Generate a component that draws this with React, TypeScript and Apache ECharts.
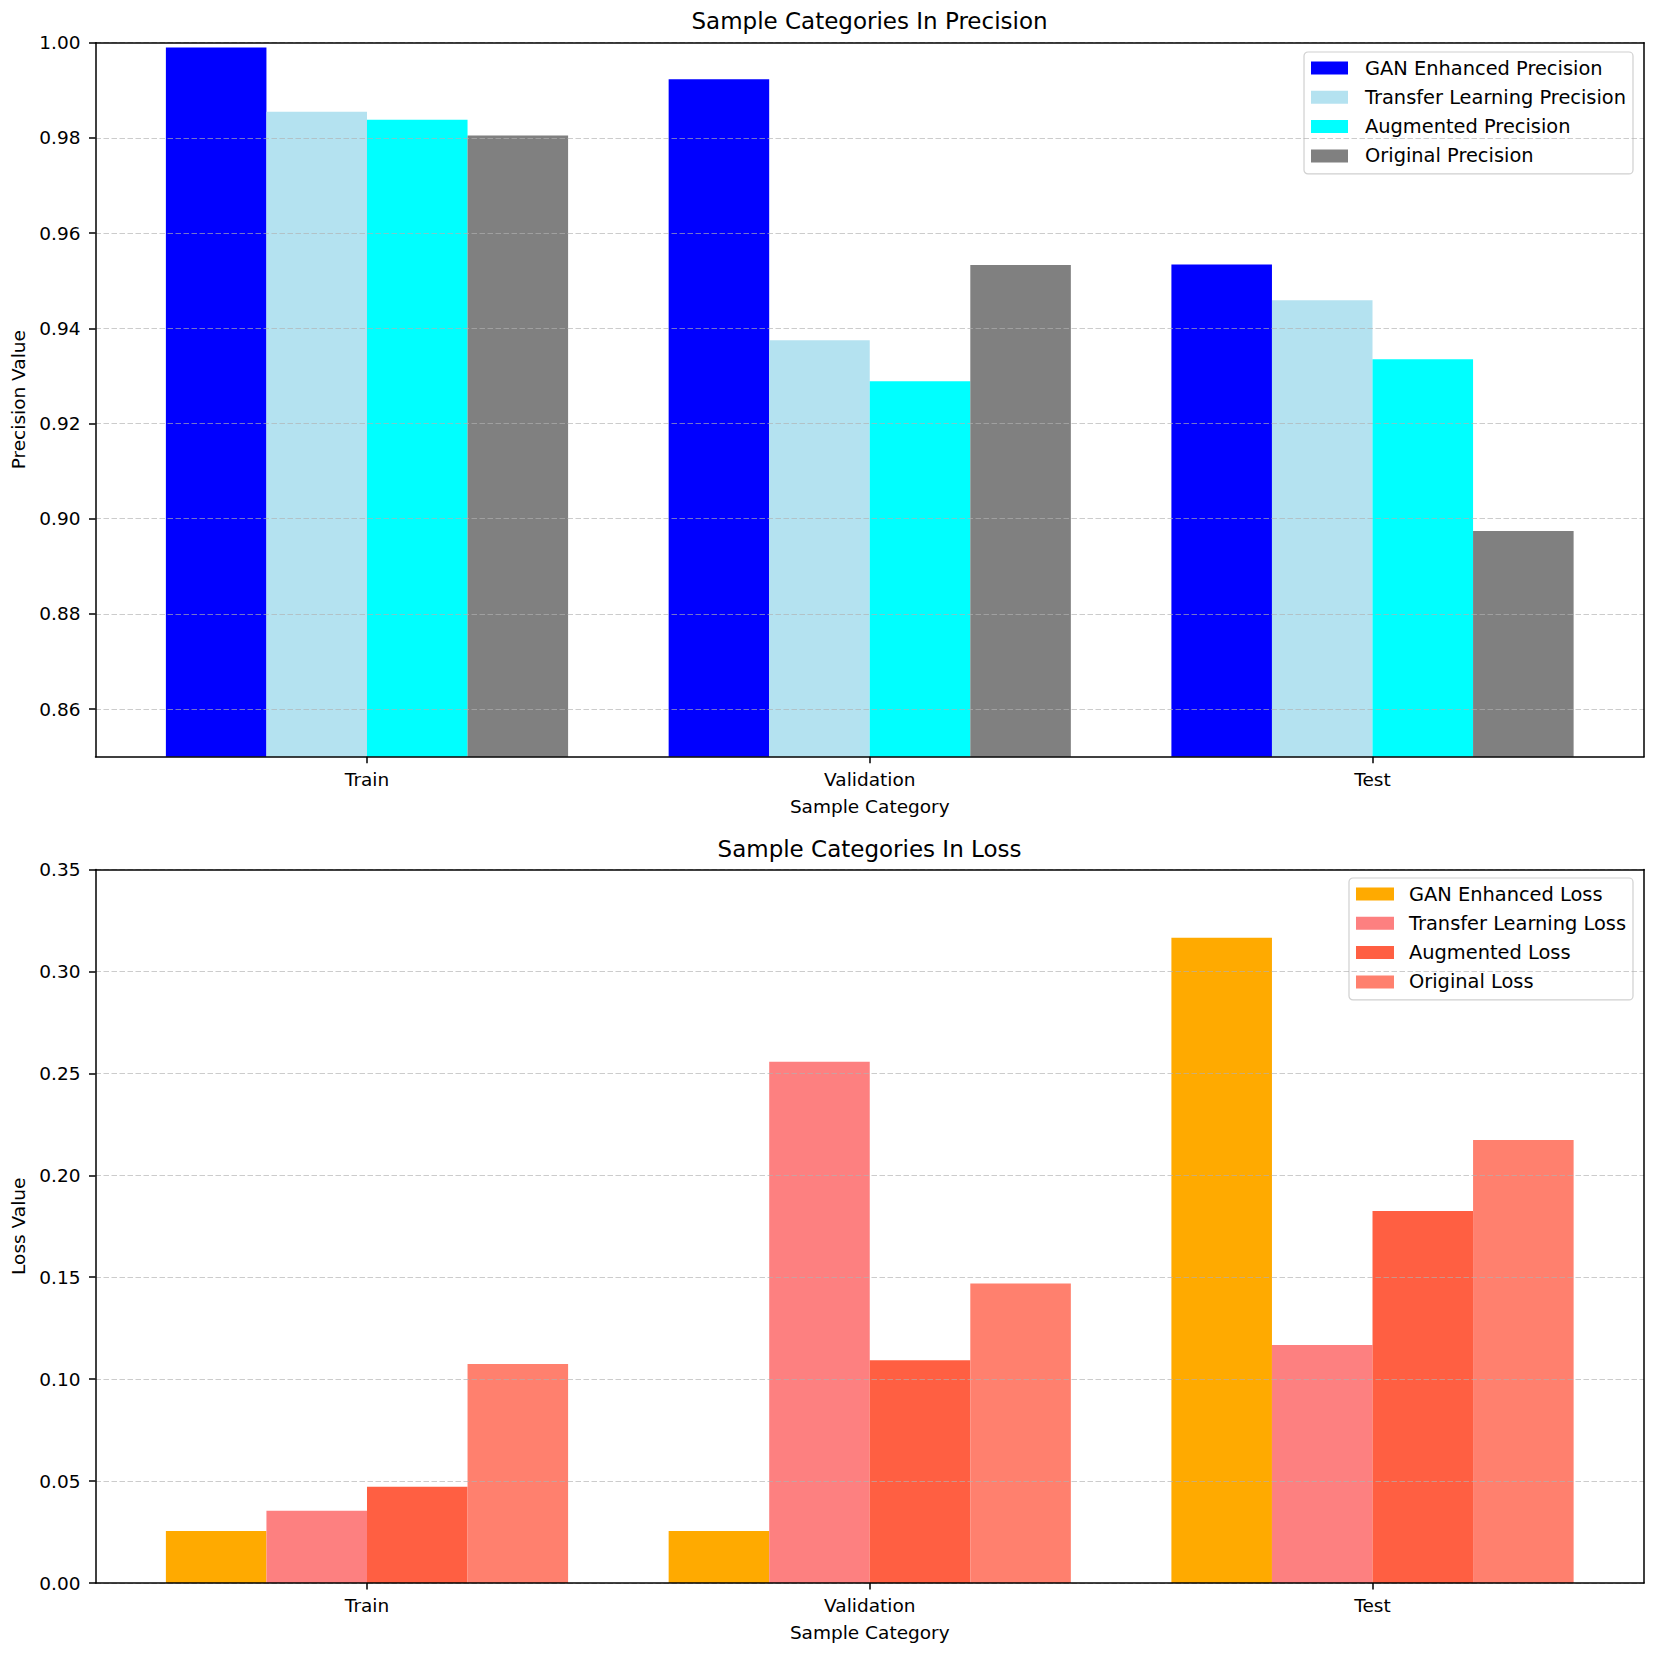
import React, { useEffect, useRef } from 'react';
import * as echarts from 'echarts';

const categories = ['Train', 'Validation', 'Test'];
const categoryPositions = [0, 1, 2];

const precisionNames = ['GAN Enhanced Precision', 'Transfer Learning Precision', 'Augmented Precision', 'Original Precision'];
const ganPrecision = [0.999, 0.9923, 0.9534];
const transferPrecision = [0.9855, 0.9375, 0.9459];
const augmentedPrecision = [0.9838, 0.9289, 0.9335];
const originalPrecision = [0.9805, 0.9533, 0.8974];
const precisionColors = ['#0000ff', '#b4e2f0', '#00ffff', '#808080'];
const precisionTicks = [0.86, 0.88, 0.9, 0.92, 0.94, 0.96, 0.98, 1.0];

const lossNames = ['GAN Enhanced Loss', 'Transfer Learning Loss', 'Augmented Loss', 'Original Loss'];
const ganLoss = [0.0255, 0.0255, 0.3165];
const transferLoss = [0.0354, 0.2557, 0.1168];
const augmentedLoss = [0.0472, 0.1093, 0.1825];
const originalLoss = [0.1074, 0.1469, 0.2173];
const lossColors = ['#ffaa00', '#fd8080', '#ff5f42', '#ff806e'];
const lossTicks = [0, 0.05, 0.1, 0.15, 0.2, 0.25, 0.3, 0.35];

const FONT = 'DejaVu Sans';

function toPairs(vals: number[]) {
  return vals.map((v, i) => [categoryPositions[i], v]);
}

export default function App() {
  const ref = useRef<HTMLDivElement>(null);
  useEffect(() => {
    document.body.style.margin = '0';
    if (!ref.current) return;
    const chart = echarts.init(ref.current, null, { renderer: 'svg' });

    const spine = { color: '#000', width: 1.5 };

    const xAxisBase = (gridIndex: number) => ({
      type: 'value',
      gridIndex,
      position: 'bottom',
      min: -0.54,
      max: 2.54,
      z: 5,
      name: 'Sample Category',
      nameLocation: 'middle',
      nameGap: 40,
      nameTextStyle: { fontFamily: FONT, fontSize: 18.5, color: '#000' },
      axisLine: { show: true, onZero: false, lineStyle: spine },
      axisTick: { show: true, length: 6.5, customValues: categoryPositions, lineStyle: spine },
      axisLabel: {
        show: true,
        margin: 13,
        customValues: categoryPositions,
        formatter: (v: number) => categories[Math.round(v)] ?? '',
        fontFamily: FONT,
        fontSize: 18.5,
        color: '#000',
      },
      splitLine: { show: false },
    });

    const xAxisTop = (gridIndex: number) => ({
      type: 'value',
      gridIndex,
      position: 'top',
      min: -0.54,
      max: 2.54,
      z: 5,
      axisLine: { show: true, onZero: false, lineStyle: spine },
      axisTick: { show: false },
      axisLabel: { show: false },
      splitLine: { show: false },
    });

    const yAxisBase = (gridIndex: number, name: string, min: number, max: number, ticks: number[]) => ({
      type: 'value',
      gridIndex,
      position: 'left',
      min,
      max,
      z: 4,
      name,
      nameLocation: 'middle',
      nameGap: 66,
      nameTextStyle: { fontFamily: FONT, fontSize: 18.5, color: '#000' },
      axisLine: { show: true, onZero: false, lineStyle: spine },
      axisTick: { show: true, length: 6.5, customValues: ticks, lineStyle: spine },
      axisLabel: {
        margin: 15,
        customValues: ticks,
        formatter: (v: number) => v.toFixed(2),
        fontFamily: FONT,
        fontSize: 18.5,
        color: '#000',
      },
      splitLine: {
        show: true,
        lineStyle: { color: 'rgba(176,176,176,0.65)', width: 1.2, type: [5.5, 2.5] },
      },
    });

    const yAxisRight = (gridIndex: number, min: number, max: number) => ({
      type: 'value',
      gridIndex,
      position: 'right',
      min,
      max,
      z: 5,
      axisLine: { show: true, onZero: false, lineStyle: spine },
      axisTick: { show: false },
      axisLabel: { show: false },
      splitLine: { show: false },
    });

    const legendBase = {
      orient: 'vertical',
      right: 21,
      icon: 'rect',
      itemWidth: 37,
      itemHeight: 13,
      itemGap: 7.3,
      backgroundColor: 'rgba(255,255,255,0.8)',
      borderColor: '#d0d0d0',
      borderWidth: 1.2,
      borderRadius: 4,
      padding: [5, 7, 7, 7],
      textStyle: { fontFamily: FONT, fontSize: 19.4, color: '#000', lineHeight: 22, padding: [0, 0, 0, 12] },
    };

    const barBase = { type: 'bar', barGap: '0%', barCategoryGap: '20%', z: 2 };

    const option: any = {
      animation: false,
      backgroundColor: '#ffffff',
      textStyle: { fontFamily: FONT },
      title: [
        {
          text: 'Sample Categories In Precision',
          left: 869.5,
          top: 9,
          textAlign: 'center',
          padding: 0,
          textStyle: { fontFamily: FONT, fontSize: 23, fontWeight: 'normal', color: '#000' },
        },
        {
          text: 'Sample Categories In Loss',
          left: 869.5,
          top: 837,
          textAlign: 'center',
          padding: 0,
          textStyle: { fontFamily: FONT, fontSize: 23, fontWeight: 'normal', color: '#000' },
        },
      ],
      grid: [
        { left: 95.5, top: 42.7, width: 1548.5, height: 714, show: false },
        { left: 95.5, top: 869.5, width: 1548.5, height: 713.5, show: false },
      ],
      legend: [
        { ...legendBase, top: 52, data: precisionNames },
        { ...legendBase, top: 878, data: lossNames, itemWidth: 38, textStyle: { ...legendBase.textStyle, padding: [0, 0, 0, 10] } },
      ],
      xAxis: [xAxisBase(0), xAxisBase(1), xAxisTop(0), xAxisTop(1)],
      yAxis: [
        yAxisBase(0, 'Precision Value', 0.85, 1.0, precisionTicks),
        yAxisBase(1, 'Loss Value', 0, 0.35, lossTicks),
        yAxisRight(0, 0.85, 1.0),
        yAxisRight(1, 0, 0.35),
      ],
      series: [
        { ...barBase, name: precisionNames[0], xAxisIndex: 0, yAxisIndex: 0, data: toPairs(ganPrecision), itemStyle: { color: precisionColors[0] } },
        { ...barBase, name: precisionNames[1], xAxisIndex: 0, yAxisIndex: 0, data: toPairs(transferPrecision), itemStyle: { color: precisionColors[1] } },
        { ...barBase, name: precisionNames[2], xAxisIndex: 0, yAxisIndex: 0, data: toPairs(augmentedPrecision), itemStyle: { color: precisionColors[2] } },
        { ...barBase, name: precisionNames[3], xAxisIndex: 0, yAxisIndex: 0, data: toPairs(originalPrecision), itemStyle: { color: precisionColors[3] } },
        { ...barBase, name: lossNames[0], xAxisIndex: 1, yAxisIndex: 1, data: toPairs(ganLoss), itemStyle: { color: lossColors[0] } },
        { ...barBase, name: lossNames[1], xAxisIndex: 1, yAxisIndex: 1, data: toPairs(transferLoss), itemStyle: { color: lossColors[1] } },
        { ...barBase, name: lossNames[2], xAxisIndex: 1, yAxisIndex: 1, data: toPairs(augmentedLoss), itemStyle: { color: lossColors[2] } },
        { ...barBase, name: lossNames[3], xAxisIndex: 1, yAxisIndex: 1, data: toPairs(originalLoss), itemStyle: { color: lossColors[3] } },
      ],
    };

    chart.setOption(option);
    return () => {
      chart.dispose();
    };
  }, []);

  return <div ref={ref} style={{ width: 1654, height: 1654 }} />;
}
